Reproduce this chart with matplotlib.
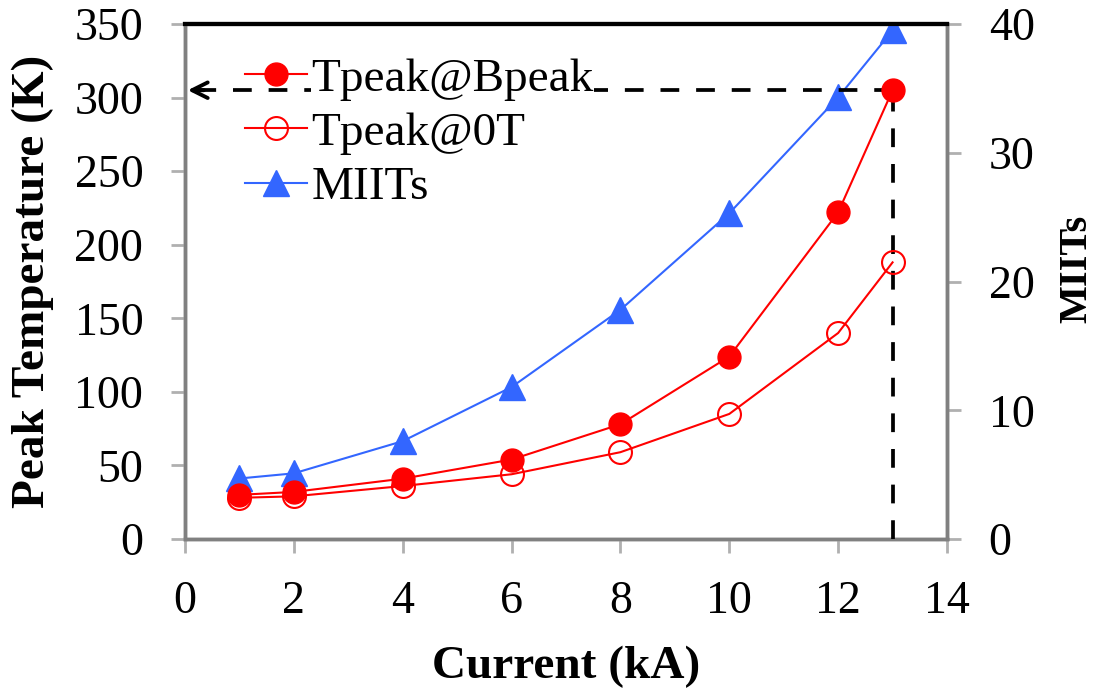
import matplotlib
matplotlib.use("Agg")
import matplotlib.pyplot as plt

plt.rcParams['font.family'] = ['Liberation Serif', 'DejaVu Serif']

current = [1, 2, 4, 6, 8, 10, 12, 13]
tpeak_bpeak = [30, 32, 41, 54, 78, 124, 222, 305]
tpeak_0t = [28, 29, 36, 44, 59, 85, 140, 188]
miits = [4.7, 5.1, 7.6, 11.8, 17.8, 25.3, 34.3, 39.5]

x_ticks = [0, 2, 4, 6, 8, 10, 12, 14]
y_ticks = [0, 50, 100, 150, 200, 250, 300, 350]
y2_ticks = [0, 10, 20, 30, 40]

ref_current = 13
ref_temp = 305

RED = '#FF0000'
BLUE = '#3366FF'
GRAY = '#808080'

fig = plt.figure(figsize=(10.96, 6.92), dpi=100)
ax = fig.add_axes([185/1096, 1-539/692, (947-185)/1096, (539-24)/692])
ax2 = ax.twinx()

l1, = ax.plot(current, tpeak_bpeak, color=RED, lw=1.5, marker='o', ms=16.5,
              mfc=RED, mec=RED, label='Tpeak@Bpeak', zorder=4)
l2, = ax.plot(current, tpeak_0t, color=RED, lw=1.5, marker='o', ms=16.5,
              mfc='none', mec=RED, mew=1.5, label='Tpeak@0T', zorder=4)
l3, = ax2.plot(current, miits, color=BLUE, lw=1.5, marker='^', ms=19,
               mfc=BLUE, mec=BLUE, label='MIITs', zorder=4)

# dashed guide lines
ax.plot([ref_current, ref_current], [0, ref_temp], color='k', lw=2.7,
        ls=(0, (5, 4.5)), zorder=3)
ax.plot([ref_current, 0.15], [ref_temp, ref_temp], color='k', lw=2.7,
        ls=(0, (5, 4.5)), zorder=3)
ax.annotate('', xy=(0, ref_temp), xytext=(0.4, ref_temp),
            arrowprops=dict(arrowstyle='->', color='k', lw=2.8,
                            mutation_scale=28), zorder=5)

ax.set_xlim(0, 14)
ax.set_ylim(0, 350)
ax2.set_ylim(0, 40)
ax.set_xticks(x_ticks)
ax.set_yticks(y_ticks)
ax2.set_yticks(y2_ticks)

for a in (ax, ax2):
    for s in ('left', 'right', 'bottom'):
        a.spines[s].set_color(GRAY)
        a.spines[s].set_linewidth(2.5)
    a.spines['top'].set_color('k')
    a.spines['top'].set_linewidth(3)
    a.tick_params(axis='both', direction='out', length=10, width=2,
                  color='#B0B0B0', labelsize=33, pad=20)

ax.set_xlabel('Current (kA)', fontsize=34, fontweight='bold', labelpad=16)
ax.set_ylabel('Peak Temperature (K)', fontsize=34, fontweight='bold')
ax.yaxis.set_label_coords((54 - 185) / 762, 0.5)
ax2.set_ylabel('MIITs', fontsize=29, fontweight='bold')
ax2.yaxis.set_label_coords((1058 - 185) / 762, 0.525)

ax.set_zorder(ax2.get_zorder() + 1)
ax.patch.set_visible(False)

leg = ax.legend(handles=[l1, l2, l3], loc='upper left',
                bbox_to_anchor=(0.079, 0.935), frameon=False, fontsize=34,
                handlelength=1.3, handletextpad=0.1, labelspacing=0.24,
                borderaxespad=0, borderpad=0)
for t in leg.get_texts():
    t.set_bbox(dict(facecolor='white', edgecolor='none', pad=0))

fig.savefig('out.png', dpi=100)
